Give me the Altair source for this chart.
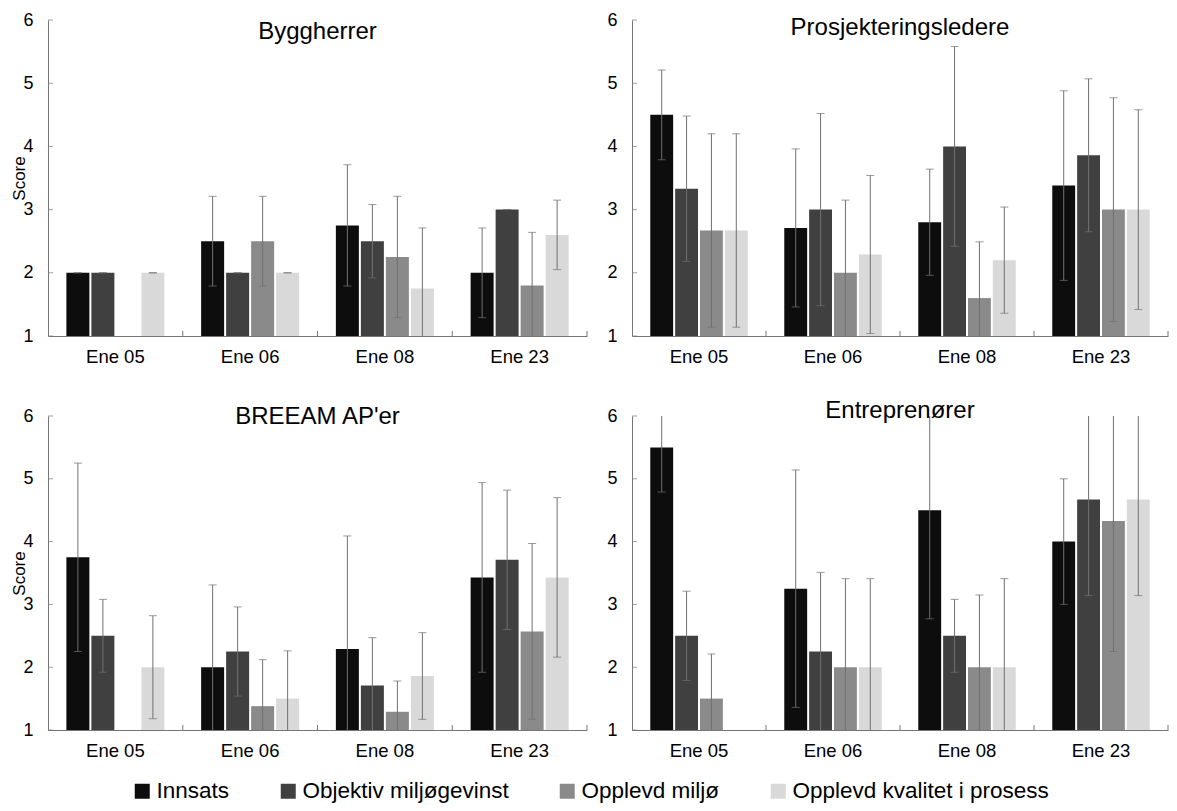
import altair as alt
import pandas as pd

FONT = "Liberation Sans"

categories = ["Ene 05", "Ene 06", "Ene 08", "Ene 23"]
series = ["Innsats", "Objektiv miljøgevinst", "Opplevd miljø", "Opplevd kvalitet i prosess"]
colors = ["#0d0d0d", "#404040", "#8a8a8a", "#d9d9d9"]
y_ticks = [1, 2, 3, 4, 5, 6]

# mean per series (rows) over categories (columns); None = no bar
bygg_mean = [[2.0, 2.5, 2.75, 2.0], [2.0, 2.0, 2.5, 3.0], [None, 2.5, 2.25, 1.8], [2.0, 2.0, 1.75, 2.6]]
bygg_sd = [[0.0, 0.71, 0.96, 0.71], [0.0, 0.0, 0.58, 0.0], [None, 0.71, 0.96, 0.84], [0.0, 0.0, 0.96, 0.55]]

pros_mean = [[4.5, 2.71, 2.8, 3.38], [3.33, 3.0, 4.0, 3.86], [2.67, 2.0, 1.6, 3.0], [2.67, 2.29, 2.2, 3.0]]
pros_sd = [[0.71, 1.25, 0.84, 1.5], [1.15, 1.52, 1.58, 1.21], [1.53, 1.15, 0.89, 1.77], [1.53, 1.25, 0.84, 1.58]]

breeam_mean = [[3.75, 2.0, 2.29, 3.43], [2.5, 2.25, 1.71, 3.71], [None, 1.38, 1.29, 2.57], [2.0, 1.5, 1.86, 3.43]]
breeam_sd = [[1.5, 1.31, 1.8, 1.51], [0.58, 0.71, 0.76, 1.11], [None, 0.74, 0.49, 1.4], [0.82, 0.76, 0.69, 1.27]]

entr_mean = [[5.5, 3.25, 4.5, 4.0], [2.5, 2.25, 2.5, 4.67], [1.5, 2.0, 2.0, 4.33], [None, 2.0, 2.0, 4.67]]
entr_sd = [[0.71, 1.89, 1.73, 1.0], [0.71, 1.26, 0.58, 1.53], [0.71, 1.41, 1.15, 2.08], [None, 1.41, 1.41, 1.53]]

AXC = "#767676"
ERRC = "#707070"


def panel(name, means, sds, width, height, title_offset, score):
    rows = []
    for si, s in enumerate(series):
        for ci, c in enumerate(categories):
            m = means[si][ci]
            if m is None:
                continue
            sd = sds[si][ci]
            rows.append({"cat": c, "series": s, "mean": m, "lo": m - sd, "hi": m + sd})
    df = pd.DataFrame(rows)
    base = alt.Chart(df)

    xscale = alt.Scale(domain=categories, paddingInner=0, paddingOuter=0)
    xaxis = alt.Axis(title=None, labelAngle=0, labelFontSize=18.5, labelFont=FONT,
                     labelColor="black", labelPadding=11, ticks=False, tickSize=0,
                     domainColor=AXC, grid=False)
    x = alt.X("cat:N", sort=categories, scale=xscale, axis=xaxis)
    xo = alt.XOffset("series:N", sort=series,
                     scale=alt.Scale(domain=series, paddingInner=0.08, paddingOuter=0.735))

    yscale = alt.Scale(domain=[1, 6], zero=False, nice=False)
    ykw = dict(values=y_ticks, format="d", labelFontSize=18, labelFont=FONT, labelColor="black",
               labelPadding=15, ticks=False, tickSize=0, grid=False, domainColor=AXC)
    if score:
        ykw.update(title="Score", titleFont=FONT, titleFontSize=17, titleFontWeight="normal",
                   titleColor="black", titleAngle=270, titleX=-29, titleY=height / 2,
                   titleAlign="center", titleBaseline="middle")
    else:
        ykw.update(title=None)
    yaxis = alt.Axis(**ykw)

    bars = base.mark_bar(clip=True).encode(
        x=x, xOffset=xo,
        y=alt.Y("mean:Q", scale=yscale, axis=yaxis),
        y2=alt.datum(1),
        color=alt.Color("series:N", sort=series,
                        scale=alt.Scale(domain=series, range=colors),
                        legend=alt.Legend(title=None, orient="none", direction="horizontal",
                                          legendX=83, legendY=760)),
    )
    err = base.mark_rule(clip=True, color=ERRC, strokeWidth=1).encode(
        x=x, xOffset=xo,
        y=alt.Y("lo:Q", scale=yscale, axis=yaxis), y2="hi:Q")
    cap_lo = base.mark_tick(clip=True, color=ERRC, thickness=1, size=8).encode(
        x=x, xOffset=xo, y=alt.Y("lo:Q", scale=yscale, axis=yaxis))
    cap_hi = base.mark_tick(clip=True, color=ERRC, thickness=1, size=8).encode(
        x=x, xOffset=xo, y=alt.Y("hi:Q", scale=yscale, axis=yaxis))

    ytick = alt.Chart(pd.DataFrame({"t": y_ticks})).mark_tick(
        color=AXC, thickness=1, size=5).encode(
        y=alt.Y("t:Q", scale=yscale, axis=yaxis), x=alt.value(2.5))
    xtick = alt.Chart(pd.DataFrame({"cat": categories})).mark_rule(
        color=AXC, strokeWidth=1).encode(
        x=alt.X("cat:N", sort=categories, scale=xscale, axis=xaxis, bandPosition=1),
        y=alt.datum(1), y2=alt.datum(1.08))

    return alt.layer(bars, err, cap_lo, cap_hi, ytick, xtick).properties(
        width=width, height=height,
        title=alt.TitleParams(text=name, fontSize=24, font=FONT, fontWeight="normal",
                              color="black", anchor="middle", frame="group",
                              baseline="middle", offset=title_offset),
    )


tl = panel("Byggherrer", bygg_mean, bygg_sd, 539, 316, -45, True)
tr = panel("Prosjekteringsledere", pros_mean, pros_sd, 536, 316, -41, False)
bl = panel("BREEAM AP'er", breeam_mean, breeam_sd, 539, 314, -34, True)
br = panel("Entreprenører", entr_mean, entr_sd, 536, 314, -28, False)

chart = alt.concat(tl, tr, bl, br, columns=2, spacing={"row": 80, "column": 45},
                   bounds="flush").resolve_scale(
    color="shared", x="independent", y="independent", xOffset="independent"
).properties(
    padding={"left": 2, "top": 3, "right": 0, "bottom": 0}
).configure_view(stroke=None).configure_legend(
    labelFont=FONT, labelFontSize=22.5, labelColor="black", labelLimit=400,
    symbolType="square", symbolSize=225, symbolStrokeWidth=0, labelOffset=3,
    columnPadding=47, padding=0, gridAlign="none",
)

chart.save("out.html", embed_options={"renderer": "svg", "actions": False})
